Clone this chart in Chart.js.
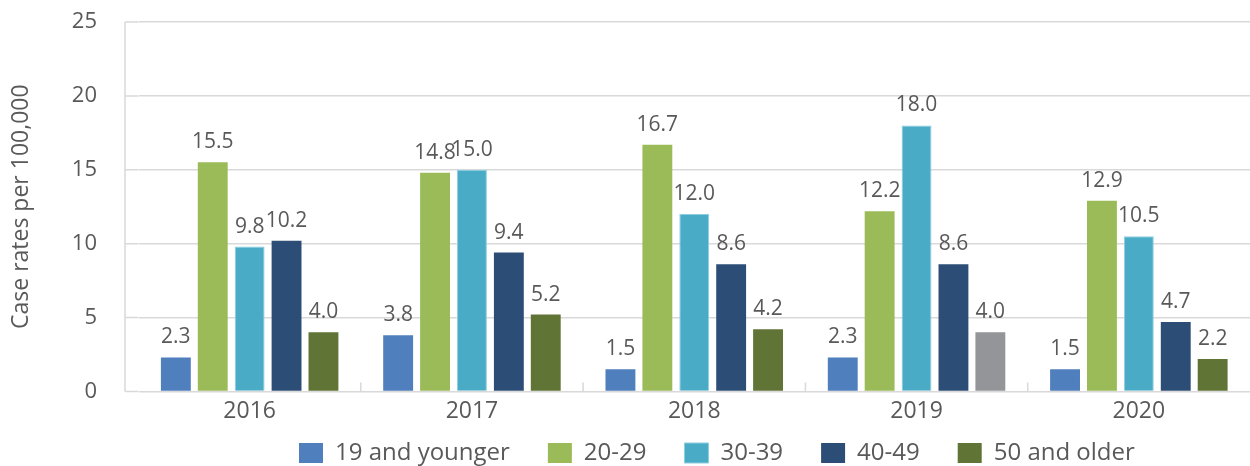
<!DOCTYPE html>
<html>
<head>
<meta charset="utf-8">
<script src="https://cdn.jsdelivr.net/npm/chart.js@4.4.1/dist/chart.umd.min.js"></script>
<style>
  html, body { margin: 0; padding: 0; background: #ffffff; }
  #wrap { width: 1250px; height: 466px; position: relative; }
</style>
</head>
<body>
<div id="wrap"><canvas id="chart"></canvas></div>
<script>
  // ---- data ----
  const years = ['2016', '2017', '2018', '2019', '2020'];
  const groupNames = ['19 and younger', '20-29', '30-39', '40-49', '50 and older'];
  const age19under = [2.3, 3.8, 1.5, 2.3, 1.5];
  const age20s = [15.5, 14.8, 16.7, 12.2, 12.9];
  const age30s = [9.8, 15.0, 12.0, 18.0, 10.5];
  const age40s = [10.2, 9.4, 8.6, 8.6, 4.7];
  const age50over = [4.0, 5.2, 4.2, 4.0, 2.2];
  const yTicks = [0, 5, 10, 15, 20, 25];

  const TEXT = '#595959';
  const GRID = '#d9d9d9';
  const FONT = '"Open Sans", "Noto Sans", sans-serif';

  // 50+ in 2019 is drawn grey in the original
  const olderColors = ['#607535', '#607535', '#607535', '#939598', '#607535'];

  /** value labels above each bar */
  const valueLabels = {
    id: 'valueLabels',
    afterDatasetsDraw(chart) {
      const ctx = chart.ctx;
      ctx.save();
      ctx.font = '21px ' + FONT;
      ctx.fillStyle = TEXT;
      ctx.textAlign = 'center';
      ctx.textBaseline = 'alphabetic';
      chart.data.datasets.forEach(function (ds, i) {
        const meta = chart.getDatasetMeta(i);
        meta.data.forEach(function (bar, j) {
          ctx.fillText(ds.data[j].toFixed(1), bar.x, bar.y - 14);
        });
      });
      ctx.restore();
    }
  };

  /** left axis line, gridline stubs to it, small ticks between years */
  const axisBits = {
    id: 'axisBits',
    beforeDatasetsDraw(chart) {
      const ctx = chart.ctx;
      const area = chart.chartArea;
      const xs = chart.scales.x;
      const ys = chart.scales.y;
      ctx.save();
      ctx.strokeStyle = GRID;
      ctx.lineWidth = 1.5;
      ctx.beginPath();
      ctx.moveTo(125, area.top);
      ctx.lineTo(125, area.bottom);
      yTicks.forEach(function (v) {
        const y = ys.getPixelForValue(v);
        ctx.moveTo(125, y);
        ctx.lineTo(area.left, y);
      });
      for (let i = 1; i < years.length; i++) {
        const x = (xs.getPixelForValue(i - 1) + xs.getPixelForValue(i)) / 2;
        ctx.moveTo(x, area.bottom - 9);
        ctx.lineTo(x, area.bottom);
      }
      ctx.stroke();
      ctx.restore();
    }
  };

  /** legend: short box in the layout, items placed as in the original */
  const LEGEND_H = 34;
  const legendPlace = {
    id: 'legendPlace',
    beforeLayout(chart) {
      const lg = chart.legend;
      if (!lg || lg._patched) return;
      const fit = lg.fit;
      lg.fit = function () {
        fit.call(this);
        this.height = LEGEND_H;
      };
      lg._patched = true;
    },
    afterLayout(chart) {
      const lg = chart.legend;
      if (!lg) return;
      const pad = lg.options.labels.padding;
      lg.top = 441 - pad;
      lg.bottom = chart.height;
      lg.left = 299 - pad;
      lg.right = chart.width;
    }
  };

  new Chart(document.getElementById('chart'), {
    type: 'bar',
    data: {
      labels: years,
      datasets: [
        { label: groupNames[0], data: age19under, backgroundColor: '#4f7fbd' },
        { label: groupNames[1], data: age20s, backgroundColor: '#9bbb59' },
        { label: groupNames[2], data: age30s, backgroundColor: '#4aabc6', borderColor: '#8ccfe0', borderWidth: 1 },
        { label: groupNames[3], data: age40s, backgroundColor: '#2c4e76' },
        { label: groupNames[4], data: age50over, backgroundColor: olderColors }
      ]
    },
    options: {
      responsive: true,
      maintainAspectRatio: false,
      animation: false,
      layout: { padding: { top: 22, right: 0, left: 0, bottom: 0 } },
      datasets: { bar: { categoryPercentage: 0.83, barPercentage: 0.81 } },
      scales: {
        x: {
          grid: { display: false, drawTicks: false },
          border: { display: false },
          ticks: { color: TEXT, font: { family: FONT, size: 23 }, padding: 6.5 }
        },
        y: {
          min: 0,
          max: 25,
          afterBuildTicks: function (scale) {
            scale.ticks = yTicks.map(function (v) { return { value: v }; });
          },
          grid: { color: GRID, lineWidth: 1.5, tickLength: 33.5, tickColor: 'rgba(0,0,0,0)', drawTicks: true },
          border: { display: false },
          ticks: { color: TEXT, font: { family: FONT, size: 22 }, padding: 8 },
          title: {
            display: true,
            text: 'Case rates per 100,000',
            color: TEXT,
            font: { family: FONT, size: 23 },
            padding: { top: 8, bottom: 0 }
          },
          afterFit: function (scale) { scale.width = 138.5; }
        }
      },
      plugins: {
        legend: {
          position: 'bottom',
          align: 'start',
          labels: {
            boxWidth: 24,
            boxHeight: 20,
            padding: 38,
            color: TEXT,
            font: { family: FONT, size: 24 }
          }
        },
        tooltip: { enabled: false }
      }
    },
    plugins: [valueLabels, axisBits, legendPlace]
  });
</script>
</body>
</html>
